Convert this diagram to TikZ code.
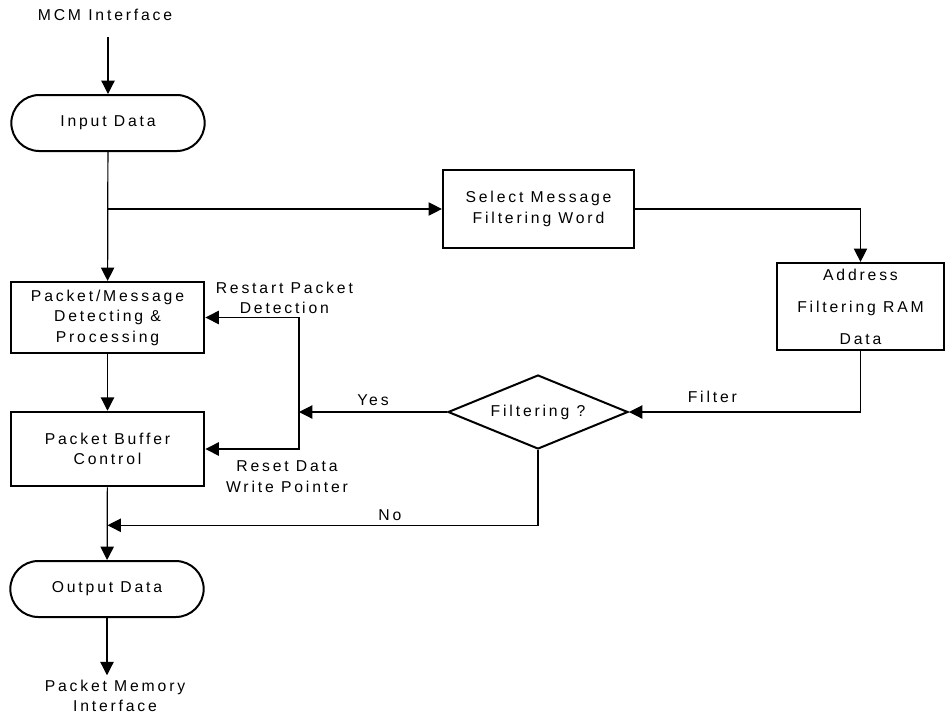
\documentclass[tikz,border=0pt]{standalone}
\usepackage{fontspec}
\setmainfont[LetterSpace=18]{Liberation Sans}
\usetikzlibrary{arrows.meta,shapes.geometric}

\begin{document}
\begin{tikzpicture}[
    x=0.75pt, y=-0.75pt,
    txt/.style={font=\fontsize{11.8}{15.4}\selectfont, align=center},
    box/.style={txt, draw, line width=1.9pt, inner sep=0pt, minimum width=145pt},
    term/.style={txt, draw, line width=1.5pt, rounded corners=21pt, minimum width=145pt, minimum height=42pt},
    dec/.style={txt, diamond, draw, line width=1.5pt, inner sep=0pt, aspect=2.4, minimum width=135pt, minimum height=55.5pt},
    arr/.style={line width=0.9pt, -{Triangle[length=10pt,width=10pt]}},
    lbl/.style={txt}
]
\useasboundingbox (0,0) rectangle (946,715);

% ---- nodes ----
\node[lbl] (mcm) at (105,15) {MCM Interface};
\node[term] (input) at (108,123) {Input Data};
\node[box, minimum height=53pt] (detect) at (107.5,317.5) {Packet/Message\\Detecting \&\\Processing};
\node[box, minimum height=55.5pt] (buffer) at (107.5,449) {Packet Buffer\\Control};
\node[term] (output) at (107,589) {Output Data};
\node[lbl] (pmi) at (115,696) {Packet Memory\\Interface};

\node[box, minimum width=143pt, minimum height=58.5pt] (select) at (538.5,209) {Select Message\\Filtering Word};
\node[box, minimum width=125pt, minimum height=65pt, font=\fontsize{11.8}{24}\selectfont] (addr) at (860.5,306.5) {Address\\Filtering RAM\\Data};
\node[dec] (filt) at (538,412) {Filtering ?};

\coordinate (junc) at (299,412);
\path (buffer.south) ++(0,38) coordinate (merge);

% ---- edges ----
\draw[arr, shorten <=9pt] (mcm.south -| input.north) -- (input.north);
\draw[arr] (input) -- (detect);
\draw[arr] (input.south |- select.west) -- (select.west);
\draw[arr] (select.east) -| (addr.north);
\draw[arr] (addr.south) |- node[lbl, above=3pt, pos=0.82] {Filter} (filt.east);

\draw[arr] (filt.west) -- node[lbl, above=1pt] {Yes} (junc);
\draw[arr] (junc) |- node[lbl, above=-1pt, xshift=-11pt, pos=0.5] {Restart Packet\\Detection} (detect.east);
\draw[arr] (junc) |- node[lbl, below=5pt, xshift=-9pt, pos=0.5] {Reset Data\\Write Pointer} (buffer.east);

\draw[arr] (detect) -- (buffer);
\draw[arr] (buffer) -- (output);
\draw[arr] (filt.south) |- node[lbl, above, pos=0.672] {No} (merge);
\draw[arr] (output.south) -- (output.south |- pmi.north);

\end{tikzpicture}
\end{document}
